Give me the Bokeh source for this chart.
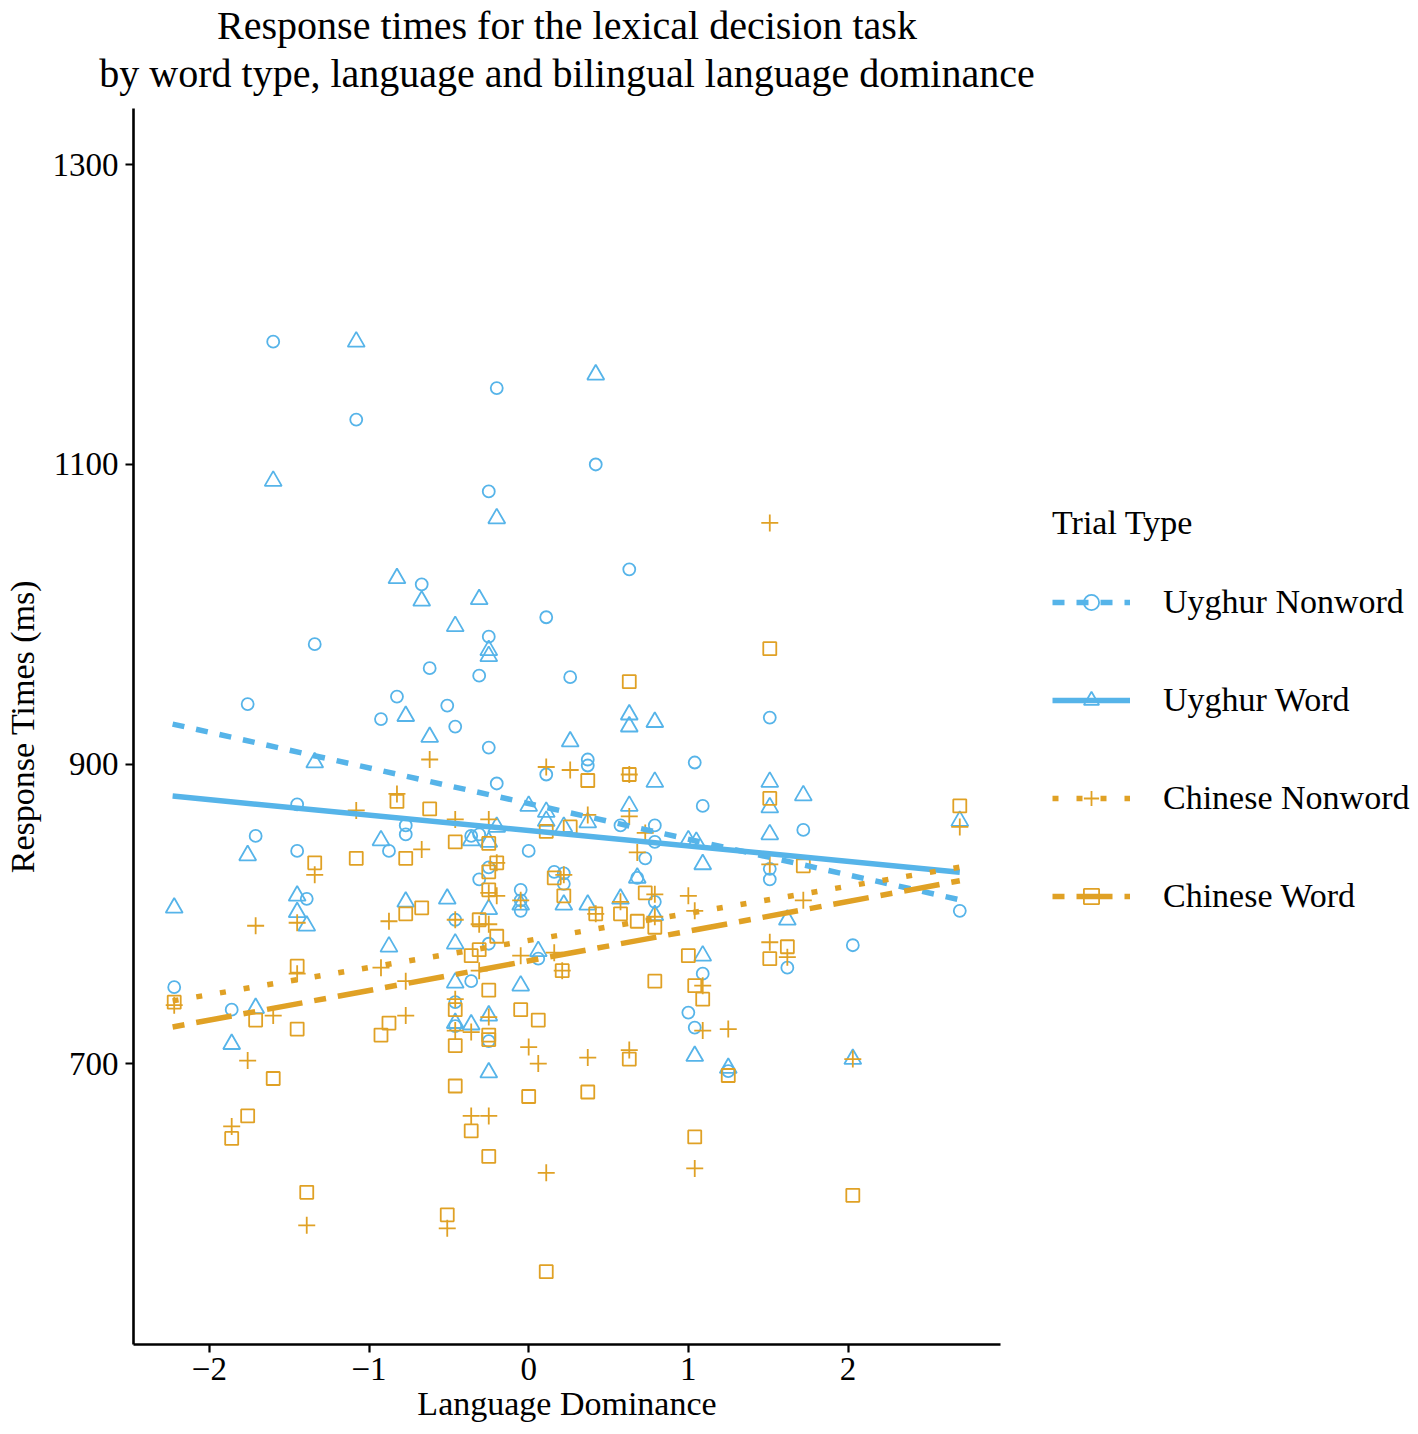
from bokeh.plotting import figure
from bokeh.models import Range1d, FixedTicker, Legend, LegendItem, Title
from bokeh.embed import file_html
from bokeh.resources import INLINE

BLUE = "#56B4E9"
ORANGE = "#E0A125"
FONT = "Liberation Serif"

# Uyghur Nonword (circles)
un_x = [-1.60, -1.08, -0.67, -1.34, -0.62, -1.76, -0.825, -0.925, -1.45, -1.71, -1.45, -0.875, -0.77, -0.77, -1.39, -2.22, -1.86,
        -0.20, 0.42, -0.25, 0.63, 0.11, -0.25, -0.31, 0.26, -0.51, -0.46, -0.25, 0.37, 0.37, 0.11, -0.20, 0.575, 0.79, 0.79, 0.73,
        -0.36, -0.31, 0.0, -0.25, -0.31, 0.16, 0.22, 0.22, -0.05, -0.05, -0.05, -0.46, -0.25, 0.68, 0.79, 0.06, -0.36, -0.46, -0.46, -0.25,
        1.04, 1.09, 1.51, 1.72, 1.51, 1.51, 2.70, 2.03, 1.09, 1.00, 1.04, 1.25, 1.62]
un_y = [1182, 1130, 1020, 980, 964, 940, 945, 930, 873, 852, 842, 842, 859, 853, 810, 751, 736,
        1151, 1100, 1082, 1030, 998, 985, 959, 958, 939, 925, 911, 903, 899, 893, 887, 859, 859, 848, 837,
        852, 853, 842, 831, 823, 828, 827, 820, 816, 809, 802, 796, 780, 824, 808, 770, 755, 741, 725, 715,
        901, 872, 931, 856, 830, 823, 802, 779, 760, 734, 724, 695, 764]

# Uyghur Word (triangles)
uw_x = [-1.08, -1.60, -0.825, -0.67, -0.77, -0.62, -1.34,
        -1.76, -0.925, -2.22, -1.45, -1.45, -1.39, -0.77, -0.875, -1.71, -1.86,
        0.42, -0.20, -0.31, -0.46, -0.25, -0.25, 0.26, 0.63, 0.63, 0.79, 0.79, 0.0, 0.11, 0.63,
        -0.20, 0.11, 0.22, 0.37, -0.36, -0.25, 0.22, -0.51, -0.05, -0.25, -0.46, 0.37, 0.575, 0.68, 0.79,
        0.06, -0.46, -0.46, -0.36, -0.25, -0.05, -0.25,
        1.51, 1.72, 1.51, 2.70, 1.51, 1.00, 1.05, 1.09, 1.62, 1.09, 1.04, 1.25, 2.03]
uw_y = [1182, 1089, 1024, 1009, 932, 918, 901,
        839, 849, 804, 812, 801, 792, 808, 778, 737, 713,
        1160, 1064, 1010, 992, 976, 972, 915, 933, 925, 928, 888, 872, 868, 872,
        858, 862, 858, 861, 849, 848, 806, 810, 806, 803, 780, 806, 810, 824, 799,
        775, 754, 727, 726, 732, 752, 694,
        888, 879, 871, 862, 853, 849, 848, 833, 796, 772, 705, 697, 703]

# Chinese Nonword (plus)
cn_x = [-1.08, -0.825, -0.62,
        -1.34, -0.67, -1.71, -1.45, -0.875, -1.45, -0.925, -0.77, -2.22, -1.60, -0.77, -1.76, -1.86, -1.39,
        0.11, 0.26, 0.63, -0.46, -0.25, 0.63, 0.37,
        0.73, 0.68, -0.20, -0.25, -0.20, -0.05, -0.46, -0.31, -0.25, 0.22, 0.42, 0.575, 0.79, 0.79,
        -0.05, 0.16, 0.21, -0.31, -0.46, -0.46, -0.36, -0.25, 0.0, 0.06, 0.37, 0.63, -0.36, -0.25, 0.11, -0.51,
        1.51, 1.51, 2.70, 1.00, 1.04, 1.72, 1.51, 1.09, 1.09, 1.25, 1.62, 2.03, 1.04]
cn_y = [869, 880, 903,
        826, 843, 792, 794, 795, 760, 764, 755, 739, 732, 732, 702, 658, 592,
        898, 896, 893, 863, 863, 865, 866,
        854, 841, 834, 814, 812, 809, 796, 793, 793, 826, 800, 808, 813, 798,
        772, 774, 762, 762, 743, 722, 721, 731, 711, 700, 704, 709, 665, 665, 627, 590,
        1061, 833, 858, 812, 802, 809, 781, 752, 722, 723, 771, 703, 630]

# Chinese Word (squares)
cw_x = [-0.825, -0.62,
        -1.34, -1.08, -0.77, -0.77, -0.67, -1.45, -2.22, -1.71, -1.45, -0.875, -0.925, -1.60, -1.76, -1.86, -1.39,
        0.63, 0.37, 0.63,
        -0.46, -0.25, 0.11, 0.26, -0.20, -0.25, 0.16, 0.22, -0.25, -0.31, -0.20, -0.36, -0.31, 0.42, 0.575, 0.68, 0.73, 0.79,
        0.21, -0.25, -0.05, 0.06, 0.79, -0.46, -0.46, -0.25, -0.25, 0.63, -0.46, 0.0, 0.37, -0.36, -0.25, -0.51, 0.11,
        1.51, 1.51, 2.70, 1.72, 1.62, 1.00, 1.04, 1.09, 1.51, 1.25, 1.04, 2.03]
cw_y = [875, 870,
        834, 837, 837, 800, 804, 765, 741, 729, 723, 727, 719, 690, 665, 650, 614,
        955, 889, 893,
        848, 847, 855, 858, 834, 828, 824, 812, 816, 796, 785, 772, 776, 800, 800, 795, 814, 791,
        762, 749, 736, 729, 755, 736, 712, 719, 716, 703, 685, 678, 681, 655, 638, 599, 561,
        977, 877, 872, 832, 778, 772, 752, 743, 770, 692, 651, 612]

# linear fits: intercept and slope per series
series_names = ["Uyghur Nonword", "Uyghur Word", "Chinese Nonword", "Chinese Word"]
fit_intercept = [873.6, 855.6, 782.2, 768.6]
fit_slope = [-23.8, -10.3, 18.1, 19.8]
fit_x_range = [-2.23, 2.70]

y_ticks = [700, 900, 1100, 1300]
x_ticks = [-2, -1, 0, 1, 2]
x_tick_labels = {-2: "\u22122", -1: "\u22121", 0: "0", 1: "1", 2: "2"}

title_lines = ["Response times for the lexical decision task",
               "by word type, language and bilingual language dominance"]

p = figure(frame_width=867, frame_height=1236,
           min_border_left=124, min_border_right=411, min_border_top=106, min_border_bottom=83,
           x_range=Range1d(-2.475, 2.955), y_range=Range1d(512.4, 1337.7),
           output_backend="svg", toolbar_location=None, title=None)
p.outline_line_color = None
p.grid.visible = False
p.background_fill_color = "white"
p.border_fill_color = "white"

for ax in (p.xaxis[0], p.yaxis[0]):
    ax.axis_line_width = 2.6
    ax.axis_line_color = "black"
    ax.major_tick_line_width = 2.2
    ax.major_tick_line_color = "black"
    ax.major_tick_out = 8
    ax.major_tick_in = 0
    ax.minor_tick_line_color = None
    ax.major_label_text_font = FONT
    ax.major_label_text_font_size = "33px"
    ax.major_label_text_color = "black"
    ax.axis_label_text_font = FONT
    ax.axis_label_text_font_size = "34px"
    ax.axis_label_text_font_style = "normal"
    ax.axis_label_text_color = "black"

p.xaxis.ticker = FixedTicker(ticks=x_ticks)
p.xaxis.major_label_overrides = x_tick_labels
p.xaxis.major_label_standoff = 5
p.xaxis.axis_label = "Language Dominance"
p.xaxis.axis_label_standoff = 2
p.yaxis.ticker = FixedTicker(ticks=y_ticks)
p.yaxis.major_label_standoff = 7
p.yaxis.axis_label = "Response Times (ms)"
p.yaxis.axis_label_standoff = 9

series = [
    (un_x, un_y, "circle", 12, BLUE, "12 12"),
    (uw_x, uw_y, "triangle", 17, BLUE, "solid"),
    (cn_x, cn_y, "cross", 17, ORANGE, "6 18"),
    (cw_x, cw_y, "square", 13, ORANGE, "12 12 36 12"),
]

scatter_r = []
for xs, ys, mk, sz, col, dash in series:
    r = p.scatter(xs, ys, marker=mk, size=sz, fill_color=None, line_color=col, line_width=1.8)
    scatter_r.append(r)

line_r = []
for i, (xs, ys, mk, sz, col, dash) in enumerate(series):
    lx = fit_x_range
    ly = [fit_intercept[i] + fit_slope[i] * v for v in lx]
    r = p.line(lx, ly, line_color=col, line_width=5.5, line_dash=dash)
    line_r.append(r)

items = [LegendItem(label=series_names[i], renderers=[line_r[i], scatter_r[i]]) for i in range(4)]
legend = Legend(items=items, location=(52, 429), glyph_width=78, glyph_height=38, label_height=38,
                spacing=60, label_standoff=33, padding=0, margin=0, border_line_color=None,
                background_fill_alpha=0, label_text_font=FONT, label_text_font_size="34px",
                label_text_color="black",
                title="Trial Type", title_text_font=FONT, title_text_font_size="34px",
                title_text_font_style="normal", title_text_color="black", title_standoff=41)
p.add_layout(legend, "right")

# titles: the first one added sits next to the frame; a tiny spacer lifts them a little
p.add_layout(Title(text=" ", text_font_size="1px", standoff=9), "above")
p.add_layout(Title(text=title_lines[1], align="center", text_font=FONT, text_font_size="40px",
                   text_font_style="normal", text_color="black", standoff=2), "above")
p.add_layout(Title(text=title_lines[0], align="center", text_font=FONT, text_font_size="40px",
                   text_font_style="normal", text_color="black", standoff=0), "above")

open("out.html", "w").write(file_html(p, INLINE))
